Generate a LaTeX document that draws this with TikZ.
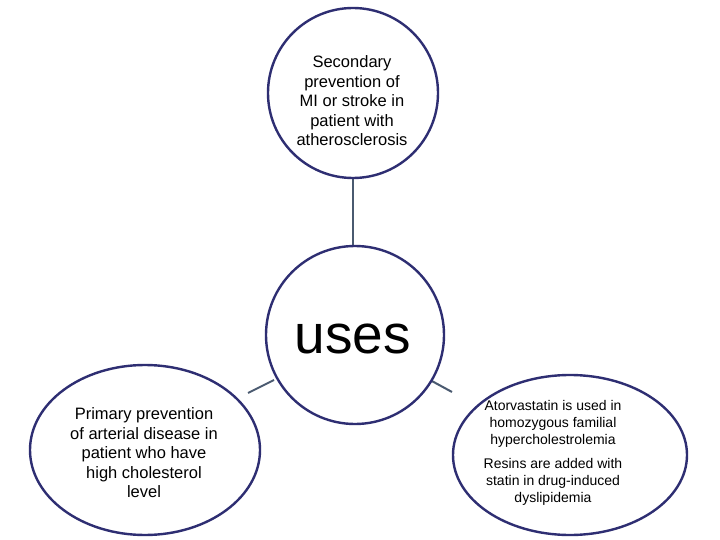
\documentclass[tikz,border=0pt]{standalone}
\usepackage{fontspec}
\setmainfont{Liberation Sans}
\usetikzlibrary{shapes.geometric}
\definecolor{navy}{HTML}{2E2E72}
\definecolor{conn}{HTML}{4A5A70}
\begin{document}
\begin{tikzpicture}[x=1pt,y=-1pt,
  bub/.style={draw=navy,line width=2.4pt,fill=white,inner sep=0pt},
  cn/.style={draw=conn,line width=2pt}]
\useasboundingbox[fill=white] (0,0) rectangle (720,540);
\draw[cn] (353,178) -- (353,245);
\draw[cn] (248,393) -- (274,380);
\draw[cn] (430,380) -- (452,392);
\node[bub,circle,minimum size=170pt] (top) at (353,93) {};
\node[bub,circle,minimum size=178pt] (mid) at (355,335) {};
\node[bub,ellipse,minimum width=230pt,minimum height=170pt] (left) at (145,450) {};
\node[bub,ellipse,minimum width=234pt,minimum height=160pt] (right) at (570,455) {};
\node[align=center,font=\fontsize{16.5}{19.5}\selectfont] (tt) at (352,101) {Secondary\\prevention of\\MI or stroke in\\patient with\\atherosclerosis};
\node[font=\fontsize{55}{58}\selectfont] (ut) at (353,339) {uses};
\node[align=center,font=\fontsize{16.5}{19.5}\selectfont] (lt) at (144,453) {Primary prevention\\of arterial disease in\\patient who have\\high cholesterol\\level};
\node[align=center,font=\fontsize{14}{17}\selectfont] (rt1) at (553,424) {Atorvastatin is used in\\homozygous familial\\hypercholestrolemia};
\node[align=center,font=\fontsize{14}{17}\selectfont] (rt2) at (553,482) {Resins are added with\\statin in drug-induced\\dyslipidemia};
\end{tikzpicture}
\end{document}
